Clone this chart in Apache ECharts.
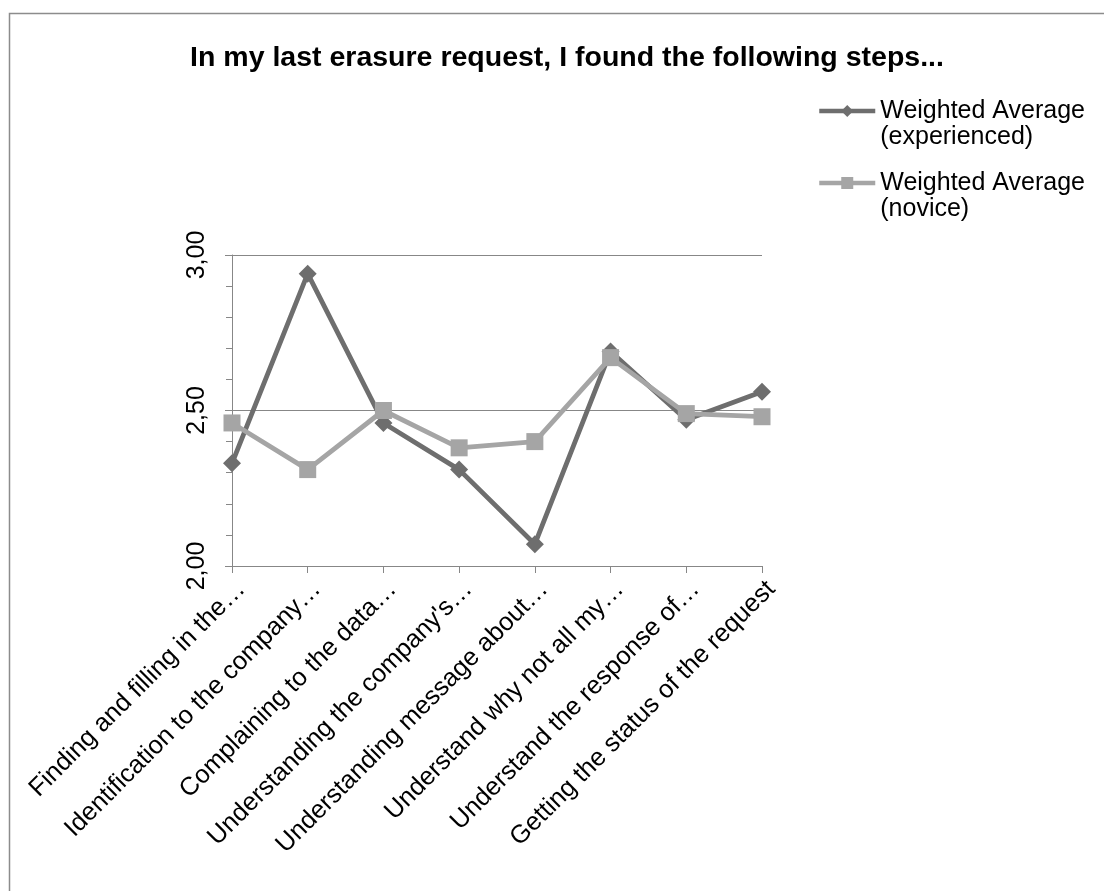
<!DOCTYPE html>
<html>
<head>
<meta charset="utf-8">
<style>
  html, body { margin: 0; padding: 0; background: #ffffff; }
  #chart { width: 1104px; height: 891px; }
</style>
<script src="https://cdn.jsdelivr.net/npm/echarts@6/dist/echarts.min.js"></script>
</head>
<body>
<div id="chart"></div>
<script>
// Survey steps (category labels as shortened on the axis)
const steps = [
  'Finding and filling in the…',
  'Identification to the company…',
  'Complaining to the data…',
  "Understanding the company's…",
  'Understanding message about…',
  'Understand why not all my…',
  'Understand the response of…',
  'Getting the status of the request'
];

// Weighted averages per group
const experienced = [2.33, 2.94, 2.46, 2.31, 2.07, 2.69, 2.47, 2.56];
const novice      = [2.46, 2.31, 2.50, 2.38, 2.40, 2.67, 2.49, 2.48];

const seriesNames = ['Weighted Average\n(experienced)', 'Weighted Average\n(novice)'];
const titleText = 'In my last erasure request, I found the following steps...';

const FONT = "'Liberation Sans', Arial, sans-serif";
const DARK = '#6e6e6e';
const LIGHT = '#a5a5a5';
const AXIS = '#878787';

const chart = echarts.init(document.getElementById('chart'), null, { renderer: 'canvas' });

// Legend text: an empty first line keeps the marker level with the first text line
const legendText = {
  fontFamily: FONT,
  fontSize: 25,
  color: '#000',
  lineHeight: 26
};
const legendBase = {
  left: 812,
  itemWidth: 56,
  itemHeight: 15,
  itemGap: 5,
  lineStyle: { width: 4.5 },
  formatter: name => '\n' + name,
  textStyle: legendText
};

chart.setOption({
  animation: false,
  backgroundColor: '#ffffff',
  graphic: [{
    type: 'rect',
    shape: { x: 9.5, y: 13.5, width: 1300, height: 1000 },
    style: { fill: 'none', stroke: '#8c8c8c', lineWidth: 1.5 },
    silent: true
  }],
  title: {
    text: titleText,
    left: 562,
    top: 39,
    textAlign: 'center',
    textStyle: { fontFamily: FONT, fontSize: 28.5, fontWeight: 'bold', color: '#000' }
  },
  legend: [
    Object.assign({ data: [seriesNames[0]], top: 67 }, legendBase),
    Object.assign({ data: [seriesNames[1]], top: 139 }, legendBase)
  ],
  grid: {
    left: 232,
    right: 342,
    top: 255,
    bottom: 325,
    containLabel: false
  },
  xAxis: {
    type: 'category',
    data: steps,
    boundaryGap: false,
    axisLine: { lineStyle: { color: AXIS, width: 1 } },
    axisTick: { show: true, alignWithLabel: true, length: 7, lineStyle: { color: AXIS } },
    axisLabel: {
      interval: 0,
      rotate: 45,
      margin: 10,
      verticalAlign: 'top',
      fontFamily: FONT,
      fontSize: 25.5,
      color: '#000'
    },
    splitLine: { show: false }
  },
  yAxis: {
    type: 'value',
    min: 2,
    max: 3,
    interval: 0.5,
    axisLine: { show: true, lineStyle: { color: AXIS, width: 1 } },
    axisTick: { show: true, length: 7, lineStyle: { color: AXIS } },
    minorTick: { show: true, splitNumber: 5, length: 6, lineStyle: { color: AXIS } },
    axisLabel: {
      rotate: 90,
      margin: 22,
      fontFamily: FONT,
      fontSize: 25,
      color: '#000',
      formatter: v => v.toFixed(2).replace('.', ',')
    },
    splitLine: { show: true, lineStyle: { color: AXIS, width: 1 } }
  },
  series: [
    {
      name: seriesNames[0],
      type: 'line',
      data: experienced,
      symbol: 'diamond',
      symbolSize: 18,
      lineStyle: { color: DARK, width: 4.8 },
      itemStyle: { color: DARK },
      z: 2
    },
    {
      name: seriesNames[1],
      type: 'line',
      data: novice,
      symbol: 'rect',
      symbolSize: 17,
      lineStyle: { color: LIGHT, width: 4.8 },
      itemStyle: { color: LIGHT },
      z: 3
    }
  ]
});
</script>
</body>
</html>
